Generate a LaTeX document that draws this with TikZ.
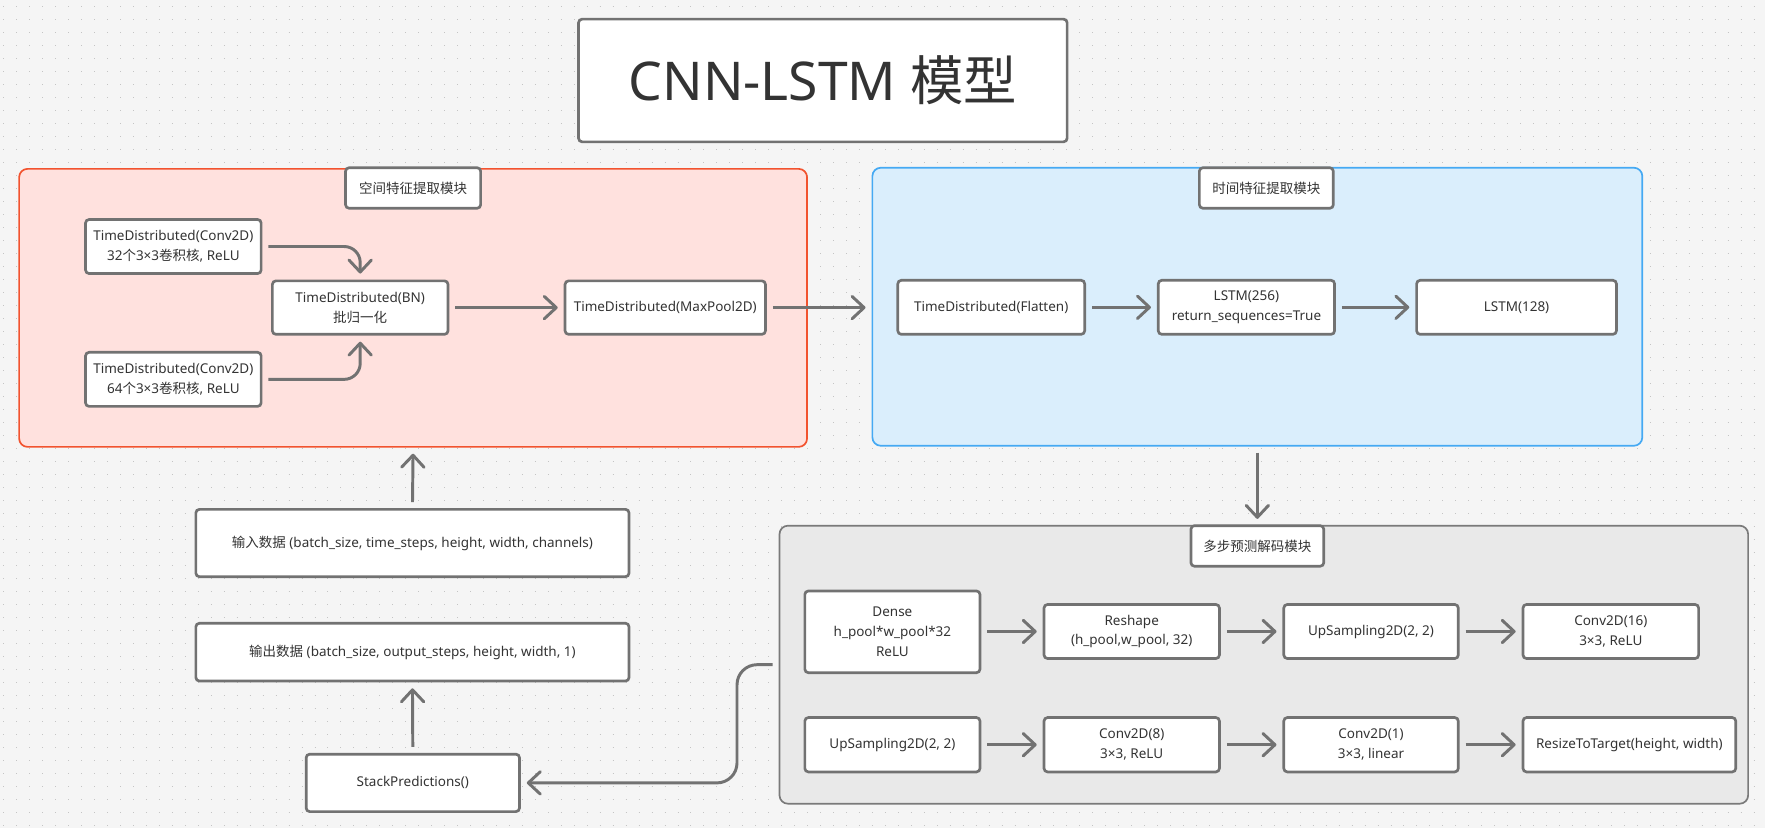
\documentclass[tikz,border=0pt]{standalone}
\usepackage{fontspec}
\setmainfont{Noto Sans}
\newfontfamily\cjk{Noto Sans CJK SC}
\usetikzlibrary{arrows.meta,positioning}
\definecolor{bgc}{HTML}{F5F5F5}
\definecolor{dotc}{HTML}{C4C4C4}
\definecolor{boxc}{HTML}{727272}
\definecolor{txtc}{HTML}{333333}
\definecolor{redc}{HTML}{F2532F}
\definecolor{redf}{HTML}{FFE1DE}
\definecolor{bluec}{HTML}{45A9F3}
\definecolor{bluef}{HTML}{DAEEFC}
\definecolor{grayc}{HTML}{7A7A7A}
\definecolor{grayf}{HTML}{E9E9E9}
\newcommand{\px}{0.028143cm}
\tikzset{
  box/.style={draw=boxc, line width=1.9pt, fill=white, rounded corners=2.5pt,
    align=center, text=txtc, inner sep=0pt,
    font=\fontsize{9.6}{14.2}\selectfont},
  panel/.style={line width=1.2pt, rounded corners=6pt, inner sep=0pt},
  arr/.style={draw=boxc, line width=2.1pt,
    -{Straight Barb[length=3mm,width=5.6mm,round]},
    shorten <=1.5mm, shorten >=1.5mm}
}
\begin{document}
\begin{tikzpicture}[x=\px, y=-\px]
\useasboundingbox (0,0) rectangle (1568,736);
\fill[bgc] (0,0) rectangle (1568,736);
\foreach \yy in {6,17.55,...,736}
  \draw[dotc, line width=0.7pt, dash pattern=on 0.7pt off 8.52pt] (3,\yy) -- (1568,\yy);

% title
\node[box, line width=1.9pt, minimum width=434*\px, minimum height=109*\px,
  font=\fontsize{38}{44}\selectfont] (title) at (731,71.5) {CNN-LSTM {\cjk 模型}};

% panels
\node[panel, draw=redc, fill=redf, minimum width=700*\px, minimum height=247*\px] (spatial) at (367,273.5) {};
\node[panel, draw=bluec, fill=bluef, minimum width=684*\px, minimum height=247*\px] (temporal) at (1117,272.5) {};
\node[panel, draw=grayc, fill=grayf, minimum width=860.5*\px, minimum height=247*\px] (decoder) at (1122.75,590.5) {};

\node[box, minimum width=120*\px, minimum height=36*\px] (spatialhead) at (367,167) {\cjk 空间特征提取模块};
\node[box, minimum width=119*\px, minimum height=36*\px] (temporalhead) at (1125,167) {\cjk 时间特征提取模块};
\node[box, minimum width=118*\px, minimum height=36*\px] (decoderhead) at (1117,485) {\cjk 多步预测解码模块};

% spatial block
\node[box, minimum width=156*\px, minimum height=48*\px] (conva) at (154,219) {TimeDistributed(Conv2D)\\32{\cjk 个}3×3{\cjk 卷积核}, ReLU};
\node[box, minimum width=156*\px, minimum height=48*\px] (convb) at (154,337) {TimeDistributed(Conv2D)\\64{\cjk 个}3×3{\cjk 卷积核}, ReLU};
\node[box, minimum width=156*\px, minimum height=47.5*\px] (bn) at (320,273.25) {TimeDistributed(BN)\\{\cjk 批归一化}};
\node[box, minimum width=178*\px, minimum height=47.5*\px] (pool) at (591,273.25) {TimeDistributed(MaxPool2D)};

% temporal block
\node[box, minimum width=166*\px, minimum height=48*\px] (flat) at (880.6,273) {TimeDistributed(Flatten)};
\node[box, minimum width=156.6*\px, minimum height=48*\px] (lstma) at (1107.3,273) {LSTM(256)\\return\_sequences=True};
\node[box, minimum width=177.5*\px, minimum height=48*\px] (lstmb) at (1347.25,273) {LSTM(128)};

% decoder block
\node[box, minimum width=155.6*\px, minimum height=72.6*\px] (dense) at (792.8,561.3) {Dense\\h\_pool*w\_pool*32\\ReLU};
\node[box, minimum width=155.8*\px, minimum height=48*\px] (reshape) at (1005.4,561) {Reshape\\(h\_pool,w\_pool, 32)};
\node[box, minimum width=155*\px, minimum height=48*\px] (upa) at (1218,561) {UpSampling2D(2, 2)};
\node[box, minimum width=156*\px, minimum height=48*\px] (convc) at (1431,561) {Conv2D(16)\\3×3, ReLU};
\node[box, minimum width=155.6*\px, minimum height=48.3*\px] (upb) at (792.8,661.6) {UpSampling2D(2, 2)};
\node[box, minimum width=155.8*\px, minimum height=48.3*\px] (convd) at (1005.4,661.6) {Conv2D(8)\\3×3, ReLU};
\node[box, minimum width=155*\px, minimum height=48.3*\px] (conve) at (1218,661.6) {Conv2D(1)\\3×3, linear};
\node[box, minimum width=189*\px, minimum height=48.3*\px] (resize) at (1447.5,661.6) {ResizeToTarget(height, width)};

% input / output
\node[box, minimum width=384.8*\px, minimum height=59.8*\px] (input) at (366.4,482.4) {{\cjk 输入数据} (batch\_size, time\_steps, height, width, channels)};
\node[box, minimum width=384.8*\px, minimum height=51.3*\px] (output) at (366.4,579.35) {{\cjk 输出数据} (batch\_size, output\_steps, height, width, 1)};
\node[box, minimum width=189.5*\px, minimum height=51*\px] (stack) at (366.75,695.5) {StackPredictions()};

% connectors
\draw[arr, rounded corners=0.4cm] (conva.east) -| (bn.north);
\draw[arr, rounded corners=0.4cm] (convb.east) -| (bn.south);
\draw[arr] (bn) -- (pool);
\draw[arr] (pool.east) -- (pool.east -| temporal.west);
\draw[arr] (flat) -- (lstma);
\draw[arr] (lstma) -- (lstmb);
\draw[arr] (temporal.south) -- (temporal.south |- decoder.north);
\draw[arr] (dense.east |- reshape.west) -- (reshape.west);
\draw[arr] (reshape) -- (upa);
\draw[arr] (upa) -- (convc);
\draw[arr] (upb) -- (convd);
\draw[arr] (convd) -- (conve);
\draw[arr] (conve) -- (resize);
\draw[arr, rounded corners=0.5cm] (decoder.west) -- ++(-37,0) |- (stack.east);
\draw[arr] (input.north) -- (spatial.south);
\draw[arr] (stack.north) -- (output.south);
\end{tikzpicture}
\end{document}
